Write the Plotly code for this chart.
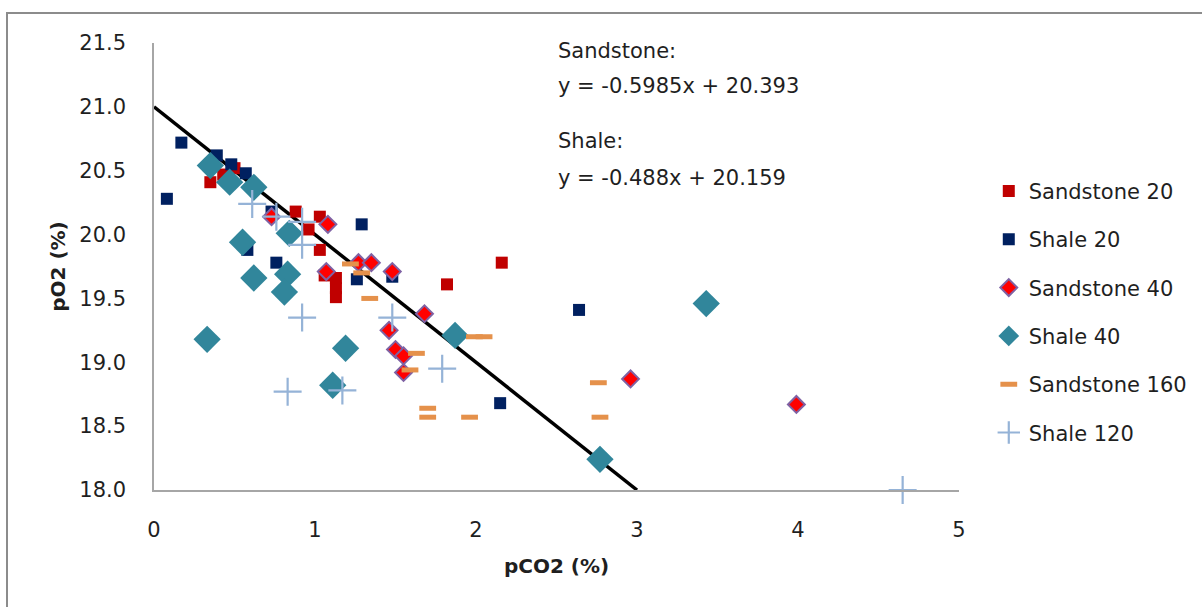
import plotly.graph_objects as go

# pCO2 / pO2 measurements (%) per lithology and depth
sandstone20_x = [0.35, 0.43, 0.50, 0.88, 1.03, 0.96, 1.03, 1.06, 1.13, 1.13, 1.13, 1.82, 2.16]
sandstone20_y = [20.41, 20.47, 20.52, 20.18, 20.14, 20.04, 19.88, 19.68, 19.66, 19.58, 19.51, 19.61, 19.78]

shale20_x = [0.08, 0.17, 0.39, 0.48, 0.57, 0.73, 0.58, 0.76, 1.29, 1.26, 1.48, 2.64, 2.15]
shale20_y = [20.28, 20.72, 20.62, 20.55, 20.48, 20.18, 19.88, 19.78, 20.08, 19.65, 19.67, 19.41, 18.68]

sandstone40_x = [0.73, 1.08, 1.07, 1.27, 1.35, 1.48, 1.68, 1.46, 1.50, 1.55, 1.55, 2.96, 3.99]
sandstone40_y = [20.14, 20.08, 19.71, 19.78, 19.78, 19.71, 19.38, 19.25, 19.10, 19.05, 18.92, 18.87, 18.67]

shale40_x = [0.35, 0.47, 0.62, 0.55, 0.84, 0.62, 0.83, 0.81, 0.33, 1.19, 1.11, 1.87, 3.43, 2.77]
shale40_y = [20.54, 20.41, 20.37, 19.94, 20.01, 19.66, 19.69, 19.55, 19.18, 19.11, 18.82, 19.21, 19.46, 18.24]

sandstone160_x = [1.22, 1.29, 1.34, 1.63, 1.59, 1.70, 1.70, 1.96, 1.99, 2.05, 2.76, 2.77]
sandstone160_y = [19.77, 19.70, 19.50, 19.07, 18.94, 18.64, 18.57, 18.57, 19.20, 19.20, 18.84, 18.57]

shale120_x = [0.61, 0.76, 0.92, 0.92, 0.92, 1.48, 1.79, 0.83, 1.17, 4.65]
shale120_y = [20.24, 20.14, 20.10, 19.92, 19.35, 19.35, 18.95, 18.77, 18.78, 18.00]

# Reference line pO2 = 21 - pCO2
ref_slope = -1.0
ref_intercept = 21.0
ref_x_end = 3.0

x_ticks = [0, 1, 2, 3, 4, 5]
y_ticks = [18.0, 18.5, 19.0, 19.5, 20.0, 20.5, 21.0, 21.5]

eq_lines = ["Sandstone:", "y = -0.5985x + 20.393", "Shale:", "y = -0.488x + 20.159"]

FONT = "'DejaVu Sans', sans-serif"
TXT = "#1f1f1f"

fig = go.Figure()

ref_x = [0.0, ref_x_end]
fig.add_trace(go.Scatter(
    x=ref_x, y=[ref_intercept + ref_slope * v for v in ref_x],
    mode="lines", line=dict(color="black", width=3.5),
    showlegend=False, hoverinfo="skip"))

series = [
    ("Sandstone 20", sandstone20_x, sandstone20_y,
     dict(symbol="square", size=12, color="#C00000", line=dict(width=0))),
    ("Shale 20", shale20_x, shale20_y,
     dict(symbol="square", size=12, color="#002060", line=dict(width=0))),
    ("Sandstone 40", sandstone40_x, sandstone40_y,
     dict(symbol="diamond", size=13, color="#FF0000", line=dict(width=2, color="#7F62A4"))),
    ("Shale 40", shale40_x, shale40_y,
     dict(symbol="diamond", size=21, color="#31869B", line=dict(width=0))),
    ("Sandstone 160", sandstone160_x, sandstone160_y,
     dict(symbol="line-ew", size=12, color="#E5914B", line=dict(width=5, color="#E5914B"))),
    ("Shale 120", shale120_x, shale120_y,
     dict(symbol="cross-thin", size=20, color="#95B3D7", line=dict(width=2.2, color="#95B3D7"))),
]

for name, xs, ys, mk in series:
    fig.add_trace(go.Scatter(
        x=xs, y=ys, mode="markers", name=name, marker=mk,
        legendgroup=name, cliponaxis=False))

eq_y = [0.982, 0.904, 0.781, 0.698]
for txt, yy in zip(eq_lines, eq_y):
    fig.add_annotation(
        text=txt, xref="paper", yref="paper", x=0.4994, y=yy,
        xanchor="left", yanchor="middle", showarrow=False,
        font=dict(family=FONT, size=21, color=TXT))

# Chart frame
fig.add_shape(type="rect", xref="paper", yref="paper",
              x0=-0.1826, x1=1.32, y0=1.0671, y1=-0.30,
              line=dict(color="#8c8c8c", width=2), fillcolor="rgba(0,0,0,0)",
              layer="below")

fig.update_layout(
    width=1202, height=607,
    margin=dict(l=154, r=243, t=43, b=117, autoexpand=False),
    paper_bgcolor="white", plot_bgcolor="white",
    font=dict(family=FONT, size=21, color=TXT),
    legend=dict(x=1.037, y=0.714, xanchor="left", yanchor="top",
                font=dict(family=FONT, size=21, color=TXT),
                tracegroupgap=18, itemsizing="trace", bgcolor="rgba(0,0,0,0)"),
    xaxis=dict(range=[0, 5], tickvals=x_ticks, ticktext=[str(v) for v in x_ticks],
               showgrid=False, zeroline=False, showline=True,
               linecolor="#A6A6A6", linewidth=1.5,
               ticks="outside", ticklen=20, tickcolor="rgba(0,0,0,0)",
               title=dict(text="<b>pCO2 (%)</b>", standoff=18,
                          font=dict(family=FONT, size=20, color=TXT))),
    yaxis=dict(range=[18, 21.5], tickvals=y_ticks, ticktext=[f"{v:.1f}" for v in y_ticks],
               showgrid=False, zeroline=False, showline=True,
               linecolor="#A6A6A6", linewidth=1.5,
               ticks="outside", ticklen=22, tickcolor="rgba(0,0,0,0)",
               title=dict(text="<b>pO2 (%)</b>", standoff=8,
                          font=dict(family=FONT, size=20, color=TXT))),
)

fig.write_html("out.html")
